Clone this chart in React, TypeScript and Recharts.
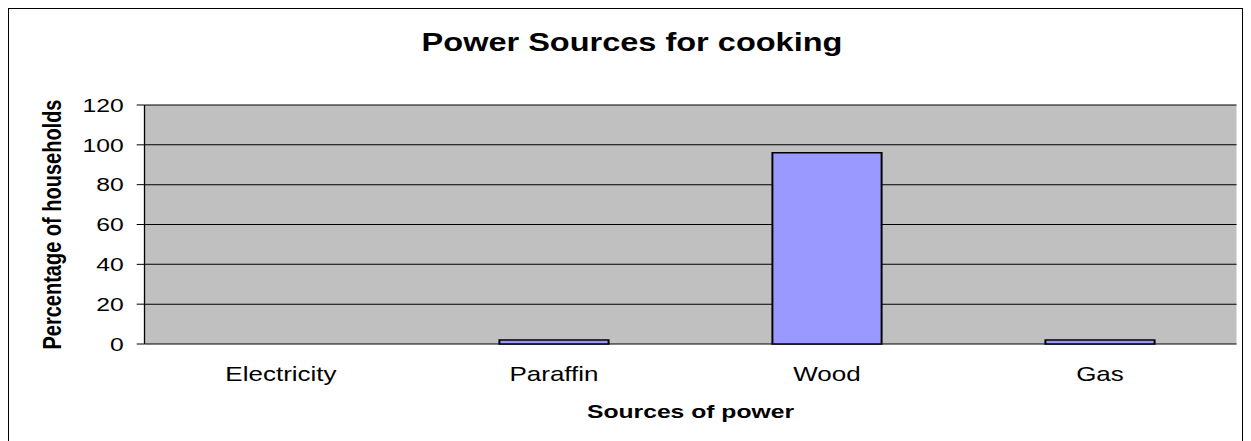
import { BarChart, Bar, XAxis, YAxis, CartesianGrid } from "recharts";

const categories = ["Electricity", "Paraffin", "Wood", "Gas"];
const households = [0, 2, 96, 2];
const yTicks = [0, 20, 40, 60, 80, 100, 120];
const edgeTicks = [0, 1, 2, 3, 4];

const data = categories.map((name, i) => ({ name, value: households[i] }));

// the source picture is stretched sideways, so the chart is drawn narrow and scaled
const stretch = 1.3;
const chartW = 950;
const chartH = 433;
const font = "Arial, 'Liberation Sans', sans-serif";

export default function App() {
  return (
    <div style={{ position: "relative", width: 1235, height: 433, overflow: "hidden", fontFamily: font }}>
      <div
        style={{
          position: "absolute", left: 0, top: 0, width: 1235, height: 440,
          boxSizing: "border-box", border: "1px solid #000", borderBottom: "none",
        }}
      />
      <div style={{ position: "absolute", left: 0, top: 0, width: chartW, height: chartH, transform: `scaleX(${stretch})`, transformOrigin: "0 0" }}>
        <div
          style={{
            position: "absolute", left: 10, top: 22, width: 940, textAlign: "center",
            fontSize: 25, lineHeight: "25px", fontWeight: "bold", color: "#000",
          }}
        >
          Power Sources for cooking
        </div>
        <BarChart width={chartW} height={chartH} data={data} margin={{ top: 97, right: 5, left: 5, bottom: 0 }} barCategoryGap="30%">
          <CartesianGrid vertical={false} stroke="#000" fill="#C0C0C0" fillOpacity={1} />
          <XAxis
            xAxisId="edges"
            type="number"
            domain={[0, 4]}
            ticks={edgeTicks}
            allowDataOverflow
            height={0}
            tick={false}
            tickSize={7}
            tickLine={{ stroke: "#000" }}
            axisLine={{ stroke: "#000" }}
          />
          <XAxis
            dataKey="name"
            height={97}
            axisLine={false}
            tickLine={false}
            tickSize={0}
            tickMargin={23}
            tick={{ fill: "#000", fontSize: 20, fontFamily: font }}
            label={{ value: "Sources of power", position: "insideBottom", offset: 23, fill: "#000", fontSize: 19, fontWeight: "bold", fontFamily: font }}
          />
          <YAxis
            domain={[0, 120]}
            ticks={yTicks}
            width={100}
            tickSize={6}
            tickMargin={10}
            axisLine={{ stroke: "#000" }}
            tickLine={{ stroke: "#000" }}
            tick={{ fill: "#000", fontSize: 19, fontFamily: font }}
            label={{ value: "Percentage of households", angle: -90, position: "insideLeft", offset: 29, fill: "#000", fontSize: 20, fontWeight: "bold", fontFamily: font, style: { textAnchor: "middle" } }}
          />
          <YAxis yAxisId="right" orientation="right" domain={[0, 120]} width={0} tick={false} tickLine={false} axisLine={{ stroke: "#808080" }} />
          <Bar dataKey="value" fill="#9999FF" stroke="#000" strokeWidth={1.5} isAnimationActive={false} />
        </BarChart>
      </div>
    </div>
  );
}
